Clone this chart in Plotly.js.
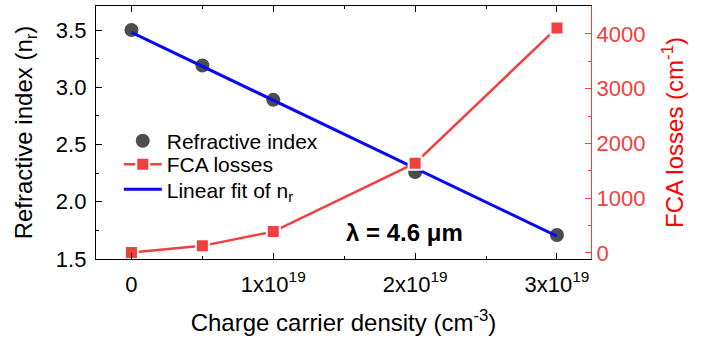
<!DOCTYPE html>
<html>
<head>
<meta charset="utf-8">
<script src="https://cdn.plot.ly/plotly-3.0.1.min.js"></script>
<style>html,body{margin:0;padding:0;background:#fff;}#chart{width:713px;height:341px;}</style>
</head>
<body>
<div id="chart"></div>
<script>
// Data
const density = [0, 0.5e19, 1e19, 2e19, 3e19];
const refractiveIndex = [3.50, 3.19, 2.89, 2.26, 1.71];
const fcaLosses = [10, 130, 390, 1640, 4110];
const fitDensity = [0, 3e19];
const fitIndex = [3.48, 1.70];
const xTickVals = [0, 1e19, 2e19, 3e19];
const xTickText = ['0', '1x10<sup>19</sup>', '2x10<sup>19</sup>', '3x10<sup>19</sup>'];

const FONT = 'Liberation Sans, Arial, sans-serif';
const RED = '#f04040';
const TICK = 22, TITLE = 24, LEG = 21;

const traces = [
  {
    x: density, y: refractiveIndex, name: 'Refractive index', type: 'scatter', mode: 'markers',
    marker: {color: '#4d4d4d', size: 14, symbol: 'circle'}, yaxis: 'y', legend: 'legend'
  },
  {
    x: fitDensity, y: fitIndex, name: 'Linear fit of n<sub>r</sub>', type: 'scatter', mode: 'lines',
    line: {color: '#0a0af0', width: 3}, yaxis: 'y', legend: 'legend3'
  },
  {
    x: density, y: fcaLosses, name: 'FCA losses', type: 'scatter', mode: 'lines+markers',
    line: {color: RED, width: 2.5},
    marker: {color: RED, size: 13, symbol: 'square', line: {color: '#ffffff', width: 2}},
    yaxis: 'y2', legend: 'legend2'
  }
];

function leg(y) {
  return {
    x: 0.046, y: y, xanchor: 'left', yanchor: 'middle',
    bgcolor: 'rgba(0,0,0,0)', borderwidth: 0, itemwidth: 38,
    font: {family: FONT, size: LEG, color: '#000'}
  };
}

const layout = {
  width: 713, height: 341,
  margin: {l: 96, r: 122, t: 6, b: 82},
  paper_bgcolor: '#ffffff', plot_bgcolor: '#ffffff',
  font: {family: FONT, color: '#000000', size: TICK},
  showlegend: true,
  legend: leg(0.466),
  legend2: leg(0.373),
  legend3: leg(0.274),
  xaxis: {
    range: [-0.25e19, 3.24e19],
    tickmode: 'array', tickvals: xTickVals, ticktext: xTickText,
    ticks: 'inside', ticklen: 6, tickwidth: 1, tickcolor: '#000',
    minor: {tickmode: 'linear', tick0: 0, dtick: 0.5e19, ticks: 'inside', ticklen: 3, tickcolor: '#000'},
    showline: true, linecolor: '#000', linewidth: 1.2, mirror: 'ticks',
    showgrid: false, zeroline: false, ticklabelstandoff: 5,
    tickfont: {family: FONT, size: TICK, color: '#000'},
    title: {text: 'Charge carrier density (cm<sup>-3</sup>)', font: {family: FONT, size: TITLE, color: '#000'}, standoff: 18}
  },
  yaxis: {
    range: [1.5, 3.71],
    tickmode: 'linear', tick0: 1.5, dtick: 0.5, tickformat: '.1f',
    ticks: 'inside', ticklen: 6, tickwidth: 1, tickcolor: '#000',
    minor: {tickmode: 'linear', tick0: 1.5, dtick: 0.25, ticks: 'inside', ticklen: 3, tickcolor: '#000'},
    showline: true, linecolor: '#000', linewidth: 1.2,
    showgrid: false, zeroline: false, ticklabelstandoff: 4,
    tickfont: {family: FONT, size: TICK, color: '#000'},
    title: {text: 'Refractive index (n<sub>r</sub>)', font: {family: FONT, size: TITLE, color: '#000'}, standoff: 16}
  },
  yaxis2: {
    overlaying: 'y', side: 'right', anchor: 'x',
    range: [-110, 4510],
    tickmode: 'linear', tick0: 0, dtick: 1000,
    ticks: 'inside', ticklen: 6, tickwidth: 1, tickcolor: RED,
    minor: {tickmode: 'linear', tick0: 0, dtick: 500, ticks: 'inside', ticklen: 3, tickcolor: RED},
    showline: true, linecolor: RED, linewidth: 1.2,
    showgrid: false, zeroline: false,
    tickfont: {family: FONT, size: TICK, color: RED},
    title: {text: 'FCA losses (cm<sup>-1</sup>)', font: {family: FONT, size: TITLE, color: '#ff0000'}, standoff: 21}
  },
  annotations: [
    {
      xref: 'paper', yref: 'paper', x: 0.624, y: 0.103, xanchor: 'center', yanchor: 'middle',
      text: '<b>λ = 4.6 μm</b>', showarrow: false,
      font: {family: FONT, size: 24, color: '#000'}
    }
  ]
};

Plotly.newPlot('chart', traces, layout, {displayModeBar: false, staticPlot: true});
</script>
</body>
</html>
